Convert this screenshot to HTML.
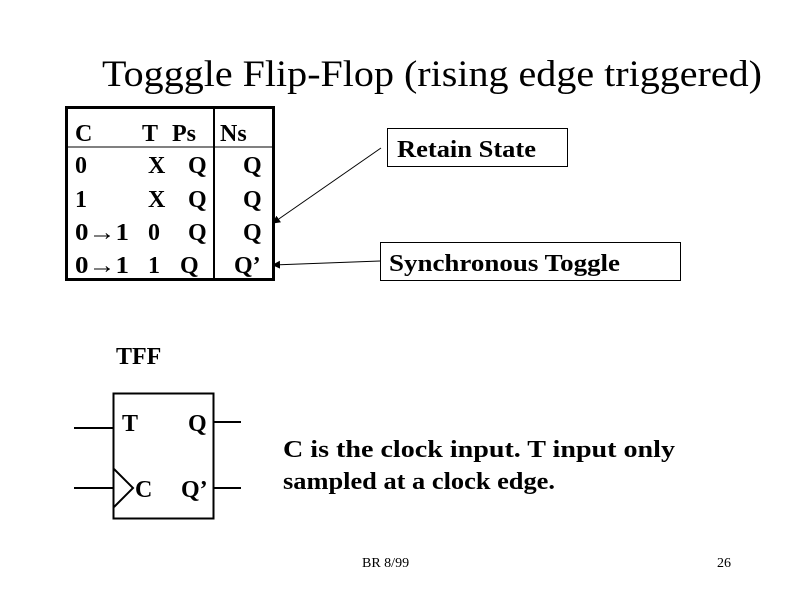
<!DOCTYPE html>
<html><head><style>
body{margin:0;background:#fff}
svg text{font-family:"Liberation Serif",serif}
.b{font-weight:bold;font-size:24px}
</style></head><body>
<svg width="800" height="600" viewBox="0 0 800 600" xmlns="http://www.w3.org/2000/svg">
<defs><marker id="a" markerWidth="8" markerHeight="8" refX="7" refY="4" orient="auto" markerUnits="userSpaceOnUse"><path d="M0,0 L8,4 L0,8 z" fill="#000"/></marker></defs>
<text x="102" y="86" font-size="37" textLength="660" lengthAdjust="spacingAndGlyphs">Togggle Flip-Flop (rising edge triggered)</text>
<rect x="66.5" y="107.5" width="207" height="172" fill="none" stroke="#000" stroke-width="3"/>
<line x1="66" y1="147" x2="273" y2="147" stroke="#000" stroke-width="1"/>
<line x1="214" y1="107" x2="214" y2="280" stroke="#000" stroke-width="2"/>
<g class="b">
<text x="75" y="141">C</text><text x="142" y="141">T</text><text x="172" y="141">Ps</text><text x="220" y="141">Ns</text>
<text x="75" y="173">0</text><text x="148" y="173">X</text><text x="188" y="173">Q</text><text x="243" y="173">Q</text>
<text x="75" y="207">1</text><text x="148" y="207">X</text><text x="188" y="207">Q</text><text x="243" y="207">Q</text>
<text x="75" y="240" textLength="54" lengthAdjust="spacingAndGlyphs">0→1</text><text x="148" y="240">0</text><text x="188" y="240">Q</text><text x="243" y="240">Q</text>
<text x="75" y="273" textLength="54" lengthAdjust="spacingAndGlyphs">0→1</text><text x="148" y="273">1</text><text x="180" y="273">Q</text><text x="234" y="273">Q’</text>
</g>
<rect x="387.5" y="128.5" width="180" height="38" fill="none" stroke="#000"/>
<text class="b" x="397" y="157" textLength="139" lengthAdjust="spacingAndGlyphs">Retain State</text>
<rect x="380.5" y="242.5" width="300" height="38" fill="none" stroke="#000"/>
<text class="b" x="389" y="271" textLength="231" lengthAdjust="spacingAndGlyphs">Synchronous Toggle</text>
<line x1="381" y1="148" x2="273" y2="223" stroke="#000" marker-end="url(#a)"/>
<line x1="380" y1="261" x2="273" y2="265" stroke="#000" marker-end="url(#a)"/>
<text class="b" x="116" y="364">TFF</text>
<rect x="113.5" y="393.5" width="100" height="125" fill="none" stroke="#000" stroke-width="2"/>
<line x1="74" y1="428" x2="113" y2="428" stroke="#000" stroke-width="2"/>
<line x1="74" y1="488" x2="113" y2="488" stroke="#000" stroke-width="2"/>
<line x1="213" y1="422" x2="241" y2="422" stroke="#000" stroke-width="2"/>
<line x1="213" y1="488" x2="241" y2="488" stroke="#000" stroke-width="2"/>
<polyline points="114,469 133,488 114,507" fill="none" stroke="#000" stroke-width="2"/>
<g class="b"><text x="122" y="431">T</text><text x="188" y="431">Q</text><text x="135" y="497">C</text><text x="181" y="497">Q’</text></g>
<text class="b" x="283" y="457" textLength="392" lengthAdjust="spacingAndGlyphs">C is the clock input.   T input  only</text>
<text class="b" x="283" y="489" textLength="272" lengthAdjust="spacingAndGlyphs">sampled at a clock edge.</text>
<text x="362" y="567" font-size="14">BR 8/99</text>
<text x="717" y="567" font-size="14">26</text>
</svg>
</body></html>
